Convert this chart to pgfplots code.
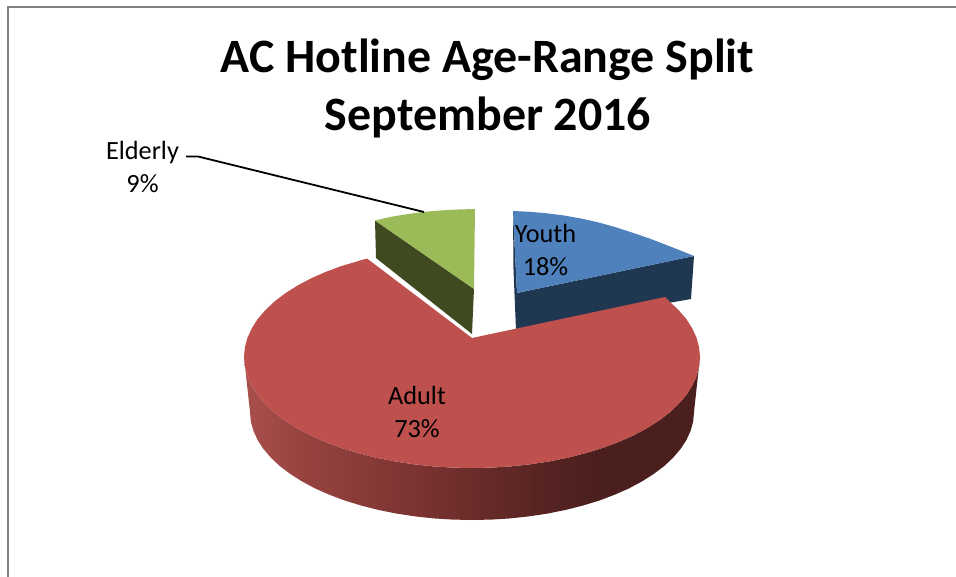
\documentclass[border=0pt]{standalone}
\usepackage{fontspec}
\setmainfont{Carlito}
\usepackage{pgfplots}
\pgfplotsset{compat=1.18}
\definecolor{redtop}{HTML}{BE504D}
\definecolor{bluetop}{HTML}{4F81BD}
\definecolor{blueside}{HTML}{203752}
\definecolor{greentop}{HTML}{9BBB59}
\definecolor{greenside}{HTML}{3F4A21}
\definecolor{borderc}{HTML}{808080}
\definecolor{rsa}{HTML}{A9504D}
\definecolor{rsb}{HTML}{96423F}
\definecolor{rsc}{HTML}{7B3331}
\definecolor{rsd}{HTML}{682B29}
\definecolor{rse}{HTML}{562422}
\definecolor{rsf}{HTML}{4B1F1D}
\pgfdeclarehorizontalshading{redside}{100bp}{
  color(0bp)=(rsa);
  color(25bp)=(rsa);
  color(32bp)=(rsb);
  color(44bp)=(rsc);
  color(51bp)=(rsd);
  color(58bp)=(rse);
  color(64bp)=(rsf);
  color(100bp)=(rsf)}
\begin{document}
\begin{tikzpicture}
\begin{axis}[
  width=956pt,height=577pt,scale only axis,hide axis,
  xmin=0,xmax=956,ymin=0,ymax=577,y dir=reverse,
  clip=true]
\path[draw=none] (axis cs:0,0) rectangle (axis cs:956,577);
% border
\addplot[borderc,line width=2pt] coordinates {(8,577)(8,7)(956,7)};
% Elderly slice
\addplot[fill=greenside,draw=none] coordinates {(375,220.5)(376,258)(472,334)(474,289)};
\addplot[fill=greentop,draw=none] coordinates {(375,220.5)(390,217)(405,214.5)(423,212)(440,210.5)(458,209.5)(475,209)(474,289)};
% Youth slice
\addplot[fill=blueside,draw=none] coordinates {(513,211)(517,293)(694,256)(691,299)(516,330)(513.5,270)};
\addplot[fill=bluetop,draw=none] coordinates {(513,211)(530,211.8)(547,213.3)(564,215.5)(581,218.5)(598,222.3)(615,227)(632,232.5)(649,238.3)(665,244.5)(680,250.3)(694,256)(517,293)};
% Adult slice, side
\addplot[shading=redside,draw=none] coordinates {
 (244,357)(244.9,366.7)(247.5,376.3)(251.8,385.7)(257.7,395)(265.4,404)(274.5,412.5)(285.2,420.7)(297.4,428.4)(310.8,435.5)(325.4,442)(341.2,447.9)(358,453)(375.6,457.6)(394,461.3)(413,464.2)(432.4,466.3)(452.2,467.6)
 (472,468)(491.8,467.6)(511.6,466.3)(531,464.2)(550,461.3)(568.4,457.6)(586,453)(602.8,447.9)(618.6,442)(633.2,435.5)(646.6,428.4)(658.8,420.7)(669.5,412.5)(678.6,404)(686.3,395)(692.2,385.7)(696.5,376.3)(699.1,366.7)(700,357)
 (694,412)(693.2,421.4)(690.6,430.8)(686.4,440)(680.6,448.9)(673.2,457.6)(664.3,466)(653.8,473.9)(642,481.4)(629,488.4)(614.7,494.7)(599.4,500.5)(583,505.5)(565.9,509.9)(548,513.5)(529.5,516.3)(510.6,518.4)(491.3,519.6)
 (472,520)(452.7,519.6)(433.4,518.4)(414.5,516.3)(396,513.5)(378.1,509.9)(361,505.5)(344.6,500.5)(329.3,494.7)(315,488.4)(302,481.4)(290.2,473.9)(279.7,466)(270.8,457.6)(263.4,448.9)(257.6,440)(253.4,430.8)(250.8,421.4)(250,412)};
% Adult slice, top
\addplot[fill=redtop,draw=none] coordinates {
 (472,338)(367,258.5)(341.2,266.1)(325.4,272)(310.8,278.5)(297.4,285.6)(285.2,293.3)(274.5,301.5)(265.4,310.1)(257.7,319)(251.8,328.3)(247.5,337.7)(244.9,347.3)(244,357)
 (244.9,366.7)(247.5,376.3)(251.8,385.7)(257.7,395)(265.4,404)(274.5,412.5)(285.2,420.7)(297.4,428.4)(310.8,435.5)(325.4,442)(341.2,447.9)(358,453)(375.6,457.6)(394,461.3)(413,464.2)(432.4,466.3)(452.2,467.6)
 (472,468)(491.8,467.6)(511.6,466.3)(531,464.2)(550,461.3)(568.4,457.6)(586,453)(602.8,447.9)(618.6,442)(633.2,435.5)(646.6,428.4)(658.8,420.7)(669.5,412.5)(678.6,404)(686.3,395)(692.2,385.7)(696.5,376.3)(699.1,366.7)(700,357)
 (699.1,347.3)(696.5,337.7)(692.2,328.3)(686.3,319)(678.6,310.1)(669.5,301.5)(665,297)};
% leader line
\addplot[black,line width=1.8pt] coordinates {(186,156.5)(198,156.5)(424,212)};
\node[font=\bfseries\fontsize{47.9}{47.9}\selectfont,anchor=base] at (axis cs:487.5,73) {AC Hotline Age-Range Split};
\node[font=\bfseries\fontsize{47.9}{47.9}\selectfont,anchor=base] at (axis cs:488,131) {September 2016};
\node[font=\fontsize{26.3}{26.3}\selectfont,anchor=base] at (axis cs:142.5,160) {Elderly};
\node[font=\fontsize{26.3}{26.3}\selectfont,anchor=base] at (axis cs:142.5,193) {9\%};
\node[font=\fontsize{26.3}{26.3}\selectfont,anchor=base] at (axis cs:545.5,243) {Youth};
\node[font=\fontsize{26.3}{26.3}\selectfont,anchor=base] at (axis cs:545.5,276) {18\%};
\node[font=\fontsize{26.3}{26.3}\selectfont,anchor=base] at (axis cs:417,404) {Adult};
\node[font=\fontsize{26.3}{26.3}\selectfont,anchor=base] at (axis cs:417,437) {73\%};
\end{axis}
\end{tikzpicture}
\end{document}
